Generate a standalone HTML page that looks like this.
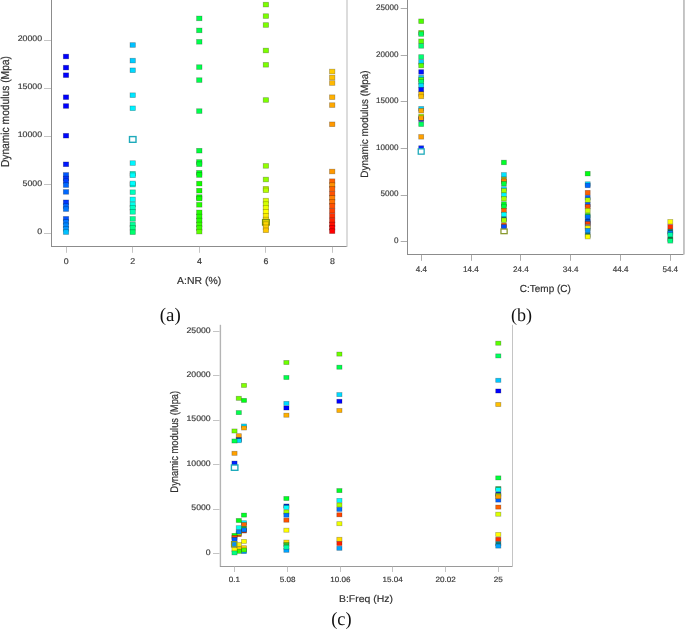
<!DOCTYPE html>
<html><head><meta charset="utf-8"><style>
html,body{margin:0;padding:0;background:#fff;width:685px;height:629px;overflow:hidden}
svg{position:absolute;left:0;top:0;will-change:transform}
text{text-rendering:geometricPrecision}

</style></head><body>
<svg width="685" height="629" viewBox="0 0 685 629" shape-rendering="auto">
<line x1="51.5" y1="0" x2="51.5" y2="246.9" stroke="#8c8c8c" stroke-width="1.0"/>
<line x1="51.0" y1="246.5" x2="347.2" y2="246.5" stroke="#8c8c8c" stroke-width="1.0"/>
<line x1="347.0" y1="0" x2="347.0" y2="246.4" stroke="#d4d4d4" stroke-width="1.6"/>
<line x1="44.0" y1="40.5" x2="51.0" y2="40.5" stroke="#c4c4c4" stroke-width="1.0"/>
<line x1="44.0" y1="88.5" x2="51.0" y2="88.5" stroke="#c4c4c4" stroke-width="1.0"/>
<line x1="44.0" y1="136.5" x2="51.0" y2="136.5" stroke="#c4c4c4" stroke-width="1.0"/>
<line x1="44.0" y1="184.5" x2="51.0" y2="184.5" stroke="#c4c4c4" stroke-width="1.0"/>
<line x1="44.0" y1="233.5" x2="51.0" y2="233.5" stroke="#c4c4c4" stroke-width="1.0"/>
<line x1="66.5" y1="246.9" x2="66.5" y2="252.8" stroke="#c4c4c4" stroke-width="1.0"/>
<line x1="132.5" y1="246.9" x2="132.5" y2="252.8" stroke="#c4c4c4" stroke-width="1.0"/>
<line x1="199.5" y1="246.9" x2="199.5" y2="252.8" stroke="#c4c4c4" stroke-width="1.0"/>
<line x1="265.5" y1="246.9" x2="265.5" y2="252.8" stroke="#c4c4c4" stroke-width="1.0"/>
<line x1="332.5" y1="246.9" x2="332.5" y2="252.8" stroke="#c4c4c4" stroke-width="1.0"/>
<line x1="407.5" y1="0" x2="407.5" y2="254.9" stroke="#8c8c8c" stroke-width="1.0"/>
<line x1="407.0" y1="254.5" x2="683.6" y2="254.5" stroke="#8c8c8c" stroke-width="1.0"/>
<line x1="683.95" y1="0" x2="683.95" y2="254.4" stroke="#bcbcbc" stroke-width="1.7"/>
<line x1="400.7" y1="8.5" x2="407.1" y2="8.5" stroke="#acacac" stroke-width="1.0"/>
<line x1="400.7" y1="55.5" x2="407.1" y2="55.5" stroke="#acacac" stroke-width="1.0"/>
<line x1="400.7" y1="101.5" x2="407.1" y2="101.5" stroke="#acacac" stroke-width="1.0"/>
<line x1="400.7" y1="148.5" x2="407.1" y2="148.5" stroke="#acacac" stroke-width="1.0"/>
<line x1="400.7" y1="195.5" x2="407.1" y2="195.5" stroke="#acacac" stroke-width="1.0"/>
<line x1="400.7" y1="241.5" x2="407.1" y2="241.5" stroke="#acacac" stroke-width="1.0"/>
<line x1="421.5" y1="254.9" x2="421.5" y2="260.8" stroke="#acacac" stroke-width="1.0"/>
<line x1="471.5" y1="254.9" x2="471.5" y2="260.8" stroke="#acacac" stroke-width="1.0"/>
<line x1="520.5" y1="254.9" x2="520.5" y2="260.8" stroke="#acacac" stroke-width="1.0"/>
<line x1="570.5" y1="254.9" x2="570.5" y2="260.8" stroke="#acacac" stroke-width="1.0"/>
<line x1="620.5" y1="254.9" x2="620.5" y2="260.8" stroke="#acacac" stroke-width="1.0"/>
<line x1="670.5" y1="254.9" x2="670.5" y2="260.8" stroke="#acacac" stroke-width="1.0"/>
<line x1="220.4" y1="324.8" x2="220.4" y2="567.0" stroke="#b4b4b4" stroke-width="1.4"/>
<line x1="220.0" y1="566.5" x2="513.0" y2="566.5" stroke="#9a9a9a" stroke-width="1.0"/>
<line x1="512.5" y1="324.8" x2="512.5" y2="567.0" stroke="#c4c4c4" stroke-width="1.0"/>
<line x1="213.0" y1="331.5" x2="219.6" y2="331.5" stroke="#c4c4c4" stroke-width="1.0"/>
<line x1="213.0" y1="375.5" x2="219.6" y2="375.5" stroke="#c4c4c4" stroke-width="1.0"/>
<line x1="213.0" y1="420.5" x2="219.6" y2="420.5" stroke="#c4c4c4" stroke-width="1.0"/>
<line x1="213.0" y1="464.5" x2="219.6" y2="464.5" stroke="#c4c4c4" stroke-width="1.0"/>
<line x1="213.0" y1="509.5" x2="219.6" y2="509.5" stroke="#c4c4c4" stroke-width="1.0"/>
<line x1="213.0" y1="553.5" x2="219.6" y2="553.5" stroke="#c4c4c4" stroke-width="1.0"/>
<line x1="234.5" y1="566.7" x2="234.5" y2="572.0" stroke="#c4c4c4" stroke-width="1.0"/>
<line x1="287.5" y1="566.7" x2="287.5" y2="572.0" stroke="#c4c4c4" stroke-width="1.0"/>
<line x1="340.5" y1="566.7" x2="340.5" y2="572.0" stroke="#c4c4c4" stroke-width="1.0"/>
<line x1="392.5" y1="566.7" x2="392.5" y2="572.0" stroke="#c4c4c4" stroke-width="1.0"/>
<line x1="445.5" y1="566.7" x2="445.5" y2="572.0" stroke="#c4c4c4" stroke-width="1.0"/>
<line x1="498.5" y1="566.7" x2="498.5" y2="572.0" stroke="#c4c4c4" stroke-width="1.0"/>
<rect x="63.30" y="54.15" width="5.40" height="4.70" fill="#0000ff" stroke="#000" stroke-opacity="0.3" stroke-width="0.7"/>
<rect x="63.30" y="65.25" width="5.40" height="4.70" fill="#0000ff" stroke="#000" stroke-opacity="0.3" stroke-width="0.7"/>
<rect x="63.30" y="72.85" width="5.40" height="4.70" fill="#0000ff" stroke="#000" stroke-opacity="0.3" stroke-width="0.7"/>
<rect x="63.30" y="94.85" width="5.40" height="4.70" fill="#0000ff" stroke="#000" stroke-opacity="0.3" stroke-width="0.7"/>
<rect x="63.30" y="103.65" width="5.40" height="4.70" fill="#0000ff" stroke="#000" stroke-opacity="0.3" stroke-width="0.7"/>
<rect x="63.30" y="133.35" width="5.40" height="4.70" fill="#0008ff" stroke="#000" stroke-opacity="0.3" stroke-width="0.7"/>
<rect x="63.30" y="161.95" width="5.40" height="4.70" fill="#0018ff" stroke="#000" stroke-opacity="0.3" stroke-width="0.7"/>
<rect x="63.30" y="172.55" width="5.40" height="4.70" fill="#0058ff" stroke="#000" stroke-opacity="0.3" stroke-width="0.7"/>
<rect x="63.30" y="176.15" width="5.40" height="4.70" fill="#0033ff" stroke="#000" stroke-opacity="0.3" stroke-width="0.7"/>
<rect x="63.30" y="178.75" width="5.40" height="4.70" fill="#0040ff" stroke="#000" stroke-opacity="0.3" stroke-width="0.7"/>
<rect x="63.30" y="182.75" width="5.40" height="4.70" fill="#0068ff" stroke="#000" stroke-opacity="0.3" stroke-width="0.7"/>
<rect x="63.30" y="189.55" width="5.40" height="4.70" fill="#0068ff" stroke="#000" stroke-opacity="0.3" stroke-width="0.7"/>
<rect x="63.30" y="199.95" width="5.40" height="4.70" fill="#0038ff" stroke="#000" stroke-opacity="0.3" stroke-width="0.7"/>
<rect x="63.30" y="203.75" width="5.40" height="4.70" fill="#0068ff" stroke="#000" stroke-opacity="0.3" stroke-width="0.7"/>
<rect x="63.30" y="206.75" width="5.40" height="4.70" fill="#0077ff" stroke="#000" stroke-opacity="0.3" stroke-width="0.7"/>
<rect x="63.30" y="216.45" width="5.40" height="4.70" fill="#0050ff" stroke="#000" stroke-opacity="0.3" stroke-width="0.7"/>
<rect x="63.30" y="219.65" width="5.40" height="4.70" fill="#0078ff" stroke="#000" stroke-opacity="0.3" stroke-width="0.7"/>
<rect x="63.30" y="222.95" width="5.40" height="4.70" fill="#0088ff" stroke="#000" stroke-opacity="0.3" stroke-width="0.7"/>
<rect x="63.30" y="226.55" width="5.40" height="4.70" fill="#0094ff" stroke="#000" stroke-opacity="0.3" stroke-width="0.7"/>
<rect x="63.30" y="229.75" width="5.40" height="4.70" fill="#00c0ff" stroke="#000" stroke-opacity="0.3" stroke-width="0.7"/>
<rect x="130.00" y="42.65" width="5.40" height="4.70" fill="#00c0ff" stroke="#000" stroke-opacity="0.3" stroke-width="0.7"/>
<rect x="130.00" y="58.25" width="5.40" height="4.70" fill="#00cdff" stroke="#000" stroke-opacity="0.3" stroke-width="0.7"/>
<rect x="130.00" y="67.95" width="5.40" height="4.70" fill="#00d9ff" stroke="#000" stroke-opacity="0.3" stroke-width="0.7"/>
<rect x="130.00" y="92.85" width="5.40" height="4.70" fill="#00e6ff" stroke="#000" stroke-opacity="0.3" stroke-width="0.7"/>
<rect x="130.00" y="105.95" width="5.40" height="4.70" fill="#00f1ff" stroke="#000" stroke-opacity="0.3" stroke-width="0.7"/>
<rect x="129.50" y="136.60" width="6.50" height="5.70" fill="#fff" stroke="#1eaabb" stroke-width="1.4"/>
<rect x="130.00" y="160.75" width="5.40" height="4.70" fill="#00f6ff" stroke="#000" stroke-opacity="0.3" stroke-width="0.7"/>
<rect x="130.00" y="171.35" width="5.40" height="4.70" fill="#00ffd6" stroke="#000" stroke-opacity="0.3" stroke-width="0.7"/>
<rect x="130.00" y="172.95" width="5.40" height="4.70" fill="#00ffff" stroke="#000" stroke-opacity="0.3" stroke-width="0.7"/>
<rect x="130.00" y="182.25" width="5.40" height="4.70" fill="#00ffe0" stroke="#000" stroke-opacity="0.3" stroke-width="0.7"/>
<rect x="130.00" y="181.05" width="5.40" height="4.70" fill="#00ffff" stroke="#000" stroke-opacity="0.3" stroke-width="0.7"/>
<rect x="130.00" y="189.85" width="5.40" height="4.70" fill="#00ffbd" stroke="#000" stroke-opacity="0.3" stroke-width="0.7"/>
<rect x="130.00" y="197.05" width="5.40" height="4.70" fill="#00fff6" stroke="#000" stroke-opacity="0.3" stroke-width="0.7"/>
<rect x="130.00" y="202.15" width="5.40" height="4.70" fill="#00ffec" stroke="#000" stroke-opacity="0.3" stroke-width="0.7"/>
<rect x="130.00" y="205.35" width="5.40" height="4.70" fill="#00ffc4" stroke="#000" stroke-opacity="0.3" stroke-width="0.7"/>
<rect x="130.00" y="209.55" width="5.40" height="4.70" fill="#00ffb3" stroke="#000" stroke-opacity="0.3" stroke-width="0.7"/>
<rect x="130.00" y="216.55" width="5.40" height="4.70" fill="#00ff93" stroke="#000" stroke-opacity="0.3" stroke-width="0.7"/>
<rect x="130.00" y="222.15" width="5.40" height="4.70" fill="#00ff97" stroke="#000" stroke-opacity="0.3" stroke-width="0.7"/>
<rect x="130.00" y="225.35" width="5.40" height="4.70" fill="#00ff84" stroke="#000" stroke-opacity="0.3" stroke-width="0.7"/>
<rect x="130.00" y="229.85" width="5.40" height="4.70" fill="#00ff6d" stroke="#000" stroke-opacity="0.3" stroke-width="0.7"/>
<rect x="196.60" y="16.05" width="5.40" height="4.70" fill="#00ff4c" stroke="#000" stroke-opacity="0.3" stroke-width="0.7"/>
<rect x="196.60" y="28.05" width="5.40" height="4.70" fill="#00ff4c" stroke="#000" stroke-opacity="0.3" stroke-width="0.7"/>
<rect x="196.60" y="39.45" width="5.40" height="4.70" fill="#00ff4c" stroke="#000" stroke-opacity="0.3" stroke-width="0.7"/>
<rect x="196.60" y="64.75" width="5.40" height="4.70" fill="#00ff4c" stroke="#000" stroke-opacity="0.3" stroke-width="0.7"/>
<rect x="196.60" y="77.75" width="5.40" height="4.70" fill="#00ff4c" stroke="#000" stroke-opacity="0.3" stroke-width="0.7"/>
<rect x="196.60" y="108.75" width="5.40" height="4.70" fill="#00ff4c" stroke="#000" stroke-opacity="0.3" stroke-width="0.7"/>
<rect x="196.60" y="148.35" width="5.40" height="4.70" fill="#00ff3b" stroke="#000" stroke-opacity="0.3" stroke-width="0.7"/>
<rect x="196.60" y="159.65" width="5.40" height="4.70" fill="#00ff29" stroke="#000" stroke-opacity="0.3" stroke-width="0.7"/>
<rect x="196.60" y="161.85" width="5.40" height="4.70" fill="#00ff2f" stroke="#000" stroke-opacity="0.3" stroke-width="0.7"/>
<rect x="196.60" y="170.45" width="5.40" height="4.70" fill="#00ff1f" stroke="#000" stroke-opacity="0.3" stroke-width="0.7"/>
<rect x="196.60" y="172.65" width="5.40" height="4.70" fill="#00ff14" stroke="#000" stroke-opacity="0.3" stroke-width="0.7"/>
<rect x="196.60" y="181.25" width="5.40" height="4.70" fill="#12ff00" stroke="#000" stroke-opacity="0.3" stroke-width="0.7"/>
<rect x="196.60" y="188.35" width="5.40" height="4.70" fill="#12ff00" stroke="#000" stroke-opacity="0.3" stroke-width="0.7"/>
<rect x="196.60" y="194.75" width="5.40" height="4.70" fill="#0aff00" stroke="#000" stroke-opacity="0.3" stroke-width="0.7"/>
<rect x="196.60" y="196.15" width="5.40" height="4.70" fill="#12ff00" stroke="#000" stroke-opacity="0.3" stroke-width="0.7"/>
<rect x="196.60" y="202.45" width="5.40" height="4.70" fill="#24ff00" stroke="#000" stroke-opacity="0.3" stroke-width="0.7"/>
<rect x="196.60" y="210.05" width="5.40" height="4.70" fill="#26ff00" stroke="#000" stroke-opacity="0.3" stroke-width="0.7"/>
<rect x="196.60" y="214.15" width="5.40" height="4.70" fill="#24ff00" stroke="#000" stroke-opacity="0.3" stroke-width="0.7"/>
<rect x="196.60" y="218.15" width="5.40" height="4.70" fill="#26ff00" stroke="#000" stroke-opacity="0.3" stroke-width="0.7"/>
<rect x="196.60" y="222.15" width="5.40" height="4.70" fill="#37ff00" stroke="#000" stroke-opacity="0.3" stroke-width="0.7"/>
<rect x="196.60" y="225.75" width="5.40" height="4.70" fill="#3bff00" stroke="#000" stroke-opacity="0.3" stroke-width="0.7"/>
<rect x="196.60" y="229.25" width="5.40" height="4.70" fill="#5eff00" stroke="#000" stroke-opacity="0.3" stroke-width="0.7"/>
<rect x="263.20" y="2.25" width="5.40" height="4.70" fill="#7cff00" stroke="#000" stroke-opacity="0.3" stroke-width="0.7"/>
<rect x="263.20" y="13.75" width="5.40" height="4.70" fill="#7cff00" stroke="#000" stroke-opacity="0.3" stroke-width="0.7"/>
<rect x="263.20" y="22.65" width="5.40" height="4.70" fill="#7cff00" stroke="#000" stroke-opacity="0.3" stroke-width="0.7"/>
<rect x="263.20" y="48.15" width="5.40" height="4.70" fill="#7cff00" stroke="#000" stroke-opacity="0.3" stroke-width="0.7"/>
<rect x="263.20" y="62.45" width="5.40" height="4.70" fill="#7cff00" stroke="#000" stroke-opacity="0.3" stroke-width="0.7"/>
<rect x="263.20" y="97.65" width="5.40" height="4.70" fill="#7cff00" stroke="#000" stroke-opacity="0.3" stroke-width="0.7"/>
<rect x="263.20" y="163.55" width="5.40" height="4.70" fill="#92ff00" stroke="#000" stroke-opacity="0.3" stroke-width="0.7"/>
<rect x="263.20" y="177.15" width="5.40" height="4.70" fill="#92ff00" stroke="#000" stroke-opacity="0.3" stroke-width="0.7"/>
<rect x="263.20" y="186.35" width="5.40" height="4.70" fill="#c8ff00" stroke="#000" stroke-opacity="0.3" stroke-width="0.7"/>
<rect x="263.20" y="187.95" width="5.40" height="4.70" fill="#b6ff00" stroke="#000" stroke-opacity="0.3" stroke-width="0.7"/>
<rect x="263.20" y="198.25" width="5.40" height="4.70" fill="#ddff00" stroke="#000" stroke-opacity="0.3" stroke-width="0.7"/>
<rect x="263.20" y="201.75" width="5.40" height="4.70" fill="#d4ff00" stroke="#000" stroke-opacity="0.3" stroke-width="0.7"/>
<rect x="263.20" y="205.35" width="5.40" height="4.70" fill="#eeff00" stroke="#000" stroke-opacity="0.3" stroke-width="0.7"/>
<rect x="263.20" y="209.35" width="5.40" height="4.70" fill="#ffff00" stroke="#000" stroke-opacity="0.3" stroke-width="0.7"/>
<rect x="263.20" y="213.35" width="5.40" height="4.70" fill="#ffee00" stroke="#000" stroke-opacity="0.3" stroke-width="0.7"/>
<rect x="263.20" y="217.15" width="5.40" height="4.70" fill="#ffe000" stroke="#000" stroke-opacity="0.3" stroke-width="0.7"/>
<rect x="262.50" y="219.50" width="6.80" height="5.60" fill="#e8d800" stroke="#7a9010" stroke-width="1.2"/>
<rect x="263.20" y="221.85" width="5.40" height="4.70" fill="#ffd800" stroke="#000" stroke-opacity="0.3" stroke-width="0.7"/>
<rect x="263.20" y="224.95" width="5.40" height="4.70" fill="#ffd000" stroke="#000" stroke-opacity="0.3" stroke-width="0.7"/>
<rect x="263.20" y="227.95" width="5.40" height="4.70" fill="#ffc800" stroke="#000" stroke-opacity="0.3" stroke-width="0.7"/>
<rect x="329.50" y="69.15" width="5.40" height="4.70" fill="#ffcc00" stroke="#000" stroke-opacity="0.3" stroke-width="0.7"/>
<rect x="329.50" y="75.15" width="5.40" height="4.70" fill="#ffc000" stroke="#000" stroke-opacity="0.3" stroke-width="0.7"/>
<rect x="329.50" y="80.65" width="5.40" height="4.70" fill="#ffb800" stroke="#000" stroke-opacity="0.3" stroke-width="0.7"/>
<rect x="329.50" y="94.85" width="5.40" height="4.70" fill="#ffb000" stroke="#000" stroke-opacity="0.3" stroke-width="0.7"/>
<rect x="329.50" y="102.75" width="5.40" height="4.70" fill="#ffa800" stroke="#000" stroke-opacity="0.3" stroke-width="0.7"/>
<rect x="329.50" y="121.95" width="5.40" height="4.70" fill="#ff9800" stroke="#000" stroke-opacity="0.3" stroke-width="0.7"/>
<rect x="329.50" y="169.15" width="5.40" height="4.70" fill="#ff9800" stroke="#000" stroke-opacity="0.3" stroke-width="0.7"/>
<rect x="329.50" y="178.85" width="5.40" height="4.70" fill="#ff6000" stroke="#000" stroke-opacity="0.3" stroke-width="0.7"/>
<rect x="329.50" y="182.75" width="5.40" height="4.70" fill="#ff9000" stroke="#000" stroke-opacity="0.3" stroke-width="0.7"/>
<rect x="329.50" y="186.55" width="5.40" height="4.70" fill="#ff6000" stroke="#000" stroke-opacity="0.3" stroke-width="0.7"/>
<rect x="329.50" y="191.35" width="5.40" height="4.70" fill="#ff5000" stroke="#000" stroke-opacity="0.3" stroke-width="0.7"/>
<rect x="329.50" y="195.55" width="5.40" height="4.70" fill="#ff8000" stroke="#000" stroke-opacity="0.3" stroke-width="0.7"/>
<rect x="329.50" y="199.55" width="5.40" height="4.70" fill="#ff7000" stroke="#000" stroke-opacity="0.3" stroke-width="0.7"/>
<rect x="329.50" y="203.55" width="5.40" height="4.70" fill="#ff5000" stroke="#000" stroke-opacity="0.3" stroke-width="0.7"/>
<rect x="329.50" y="208.35" width="5.40" height="4.70" fill="#ff4000" stroke="#000" stroke-opacity="0.3" stroke-width="0.7"/>
<rect x="329.50" y="213.35" width="5.40" height="4.70" fill="#ff3000" stroke="#000" stroke-opacity="0.3" stroke-width="0.7"/>
<rect x="329.50" y="218.15" width="5.40" height="4.70" fill="#ff2000" stroke="#000" stroke-opacity="0.3" stroke-width="0.7"/>
<rect x="329.50" y="222.15" width="5.40" height="4.70" fill="#ff1000" stroke="#000" stroke-opacity="0.3" stroke-width="0.7"/>
<rect x="329.50" y="225.35" width="5.40" height="4.70" fill="#ff0000" stroke="#000" stroke-opacity="0.3" stroke-width="0.7"/>
<rect x="329.50" y="228.85" width="5.40" height="4.70" fill="#ff0000" stroke="#000" stroke-opacity="0.3" stroke-width="0.7"/>
<rect x="418.70" y="18.95" width="5.00" height="4.60" fill="#4eff00" stroke="#000" stroke-opacity="0.3" stroke-width="0.7"/>
<rect x="418.70" y="30.35" width="5.00" height="4.60" fill="#6dff00" stroke="#000" stroke-opacity="0.3" stroke-width="0.7"/>
<rect x="418.70" y="31.75" width="5.00" height="4.60" fill="#00ff5e" stroke="#000" stroke-opacity="0.3" stroke-width="0.7"/>
<rect x="418.70" y="38.95" width="5.00" height="4.60" fill="#5bff00" stroke="#000" stroke-opacity="0.3" stroke-width="0.7"/>
<rect x="418.70" y="43.65" width="5.00" height="4.60" fill="#00ff71" stroke="#000" stroke-opacity="0.3" stroke-width="0.7"/>
<rect x="418.70" y="54.65" width="5.00" height="4.60" fill="#00ff71" stroke="#000" stroke-opacity="0.3" stroke-width="0.7"/>
<rect x="418.70" y="59.65" width="5.00" height="4.60" fill="#00d1ff" stroke="#000" stroke-opacity="0.3" stroke-width="0.7"/>
<rect x="418.70" y="63.25" width="5.00" height="4.60" fill="#5bff00" stroke="#000" stroke-opacity="0.3" stroke-width="0.7"/>
<rect x="418.70" y="69.65" width="5.00" height="4.60" fill="#0011ff" stroke="#000" stroke-opacity="0.3" stroke-width="0.7"/>
<rect x="418.70" y="75.35" width="5.00" height="4.60" fill="#00c8ff" stroke="#000" stroke-opacity="0.3" stroke-width="0.7"/>
<rect x="418.70" y="77.45" width="5.00" height="4.60" fill="#55ff00" stroke="#000" stroke-opacity="0.3" stroke-width="0.7"/>
<rect x="418.70" y="79.65" width="5.00" height="4.60" fill="#00ff71" stroke="#000" stroke-opacity="0.3" stroke-width="0.7"/>
<rect x="418.70" y="83.25" width="5.00" height="4.60" fill="#00dbff" stroke="#000" stroke-opacity="0.3" stroke-width="0.7"/>
<rect x="418.70" y="87.45" width="5.00" height="4.60" fill="#0012ff" stroke="#000" stroke-opacity="0.3" stroke-width="0.7"/>
<rect x="418.70" y="91.75" width="5.00" height="4.60" fill="#ffc400" stroke="#000" stroke-opacity="0.3" stroke-width="0.7"/>
<rect x="418.70" y="94.15" width="5.00" height="4.60" fill="#ffc000" stroke="#000" stroke-opacity="0.3" stroke-width="0.7"/>
<rect x="418.70" y="106.45" width="5.00" height="4.60" fill="#00d1ff" stroke="#000" stroke-opacity="0.3" stroke-width="0.7"/>
<rect x="418.70" y="108.35" width="5.00" height="4.60" fill="#ffa800" stroke="#000" stroke-opacity="0.3" stroke-width="0.7"/>
<rect x="418.70" y="114.15" width="5.00" height="4.60" fill="#a4ff00" stroke="#000" stroke-opacity="0.3" stroke-width="0.7"/>
<rect x="418.70" y="116.95" width="5.00" height="4.60" fill="#0024ff" stroke="#000" stroke-opacity="0.3" stroke-width="0.7"/>
<rect x="418.70" y="115.75" width="5.00" height="4.60" fill="#ffa000" stroke="#000" stroke-opacity="0.3" stroke-width="0.7"/>
<rect x="418.70" y="121.95" width="5.00" height="4.60" fill="#00ff5e" stroke="#000" stroke-opacity="0.3" stroke-width="0.7"/>
<rect x="418.70" y="134.55" width="5.00" height="4.60" fill="#ffa000" stroke="#000" stroke-opacity="0.3" stroke-width="0.7"/>
<rect x="418.70" y="145.75" width="5.00" height="4.60" fill="#0022ff" stroke="#000" stroke-opacity="0.3" stroke-width="0.7"/>
<rect x="418.25" y="148.85" width="5.90" height="5.30" fill="#fff" stroke="#1eaabb" stroke-width="1.3"/>
<rect x="501.40" y="160.15" width="5.00" height="4.60" fill="#00ff29" stroke="#000" stroke-opacity="0.3" stroke-width="0.7"/>
<rect x="501.40" y="172.55" width="5.00" height="4.60" fill="#00e4ff" stroke="#000" stroke-opacity="0.3" stroke-width="0.7"/>
<rect x="501.40" y="176.95" width="5.00" height="4.60" fill="#a0b020" stroke="#000" stroke-opacity="0.3" stroke-width="0.7"/>
<rect x="501.40" y="178.95" width="5.00" height="4.60" fill="#ff8000" stroke="#000" stroke-opacity="0.3" stroke-width="0.7"/>
<rect x="501.40" y="181.35" width="5.00" height="4.60" fill="#00ff39" stroke="#000" stroke-opacity="0.3" stroke-width="0.7"/>
<rect x="501.40" y="186.65" width="5.00" height="4.60" fill="#00dbff" stroke="#000" stroke-opacity="0.3" stroke-width="0.7"/>
<rect x="501.40" y="188.45" width="5.00" height="4.60" fill="#a4ff00" stroke="#000" stroke-opacity="0.3" stroke-width="0.7"/>
<rect x="501.40" y="192.85" width="5.00" height="4.60" fill="#00f5ff" stroke="#000" stroke-opacity="0.3" stroke-width="0.7"/>
<rect x="501.40" y="196.35" width="5.00" height="4.60" fill="#a4ff00" stroke="#000" stroke-opacity="0.3" stroke-width="0.7"/>
<rect x="501.40" y="201.75" width="5.00" height="4.60" fill="#00ff2a" stroke="#000" stroke-opacity="0.3" stroke-width="0.7"/>
<rect x="501.40" y="204.15" width="5.00" height="4.60" fill="#00ff39" stroke="#000" stroke-opacity="0.3" stroke-width="0.7"/>
<rect x="501.40" y="208.25" width="5.00" height="4.60" fill="#ff6000" stroke="#000" stroke-opacity="0.3" stroke-width="0.7"/>
<rect x="501.40" y="212.25" width="5.00" height="4.60" fill="#00ffff" stroke="#000" stroke-opacity="0.3" stroke-width="0.7"/>
<rect x="501.40" y="216.85" width="5.00" height="4.60" fill="#108080" stroke="#000" stroke-opacity="0.3" stroke-width="0.7"/>
<rect x="501.40" y="217.95" width="5.00" height="4.60" fill="#a4ff00" stroke="#000" stroke-opacity="0.3" stroke-width="0.7"/>
<rect x="501.40" y="223.05" width="5.00" height="4.60" fill="#ff6000" stroke="#000" stroke-opacity="0.3" stroke-width="0.7"/>
<rect x="501.40" y="224.55" width="5.00" height="4.60" fill="#004eff" stroke="#000" stroke-opacity="0.3" stroke-width="0.7"/>
<rect x="500.95" y="229.05" width="6.20" height="4.60" fill="#fff" stroke="#8a9a30" stroke-width="1.3"/>
<rect x="585.20" y="171.35" width="5.00" height="4.60" fill="#00ff13" stroke="#000" stroke-opacity="0.3" stroke-width="0.7"/>
<rect x="585.20" y="181.75" width="5.00" height="4.60" fill="#00e2ff" stroke="#000" stroke-opacity="0.3" stroke-width="0.7"/>
<rect x="585.20" y="183.15" width="5.00" height="4.60" fill="#0066ff" stroke="#000" stroke-opacity="0.3" stroke-width="0.7"/>
<rect x="585.20" y="190.35" width="5.00" height="4.60" fill="#ff6000" stroke="#000" stroke-opacity="0.3" stroke-width="0.7"/>
<rect x="585.20" y="195.35" width="5.00" height="4.60" fill="#005fff" stroke="#000" stroke-opacity="0.3" stroke-width="0.7"/>
<rect x="585.20" y="197.75" width="5.00" height="4.60" fill="#b6ff00" stroke="#000" stroke-opacity="0.3" stroke-width="0.7"/>
<rect x="585.20" y="202.45" width="5.00" height="4.60" fill="#005fff" stroke="#000" stroke-opacity="0.3" stroke-width="0.7"/>
<rect x="585.20" y="204.35" width="5.00" height="4.60" fill="#ff5000" stroke="#000" stroke-opacity="0.3" stroke-width="0.7"/>
<rect x="585.20" y="208.25" width="5.00" height="4.60" fill="#c8ff00" stroke="#000" stroke-opacity="0.3" stroke-width="0.7"/>
<rect x="585.20" y="213.25" width="5.00" height="4.60" fill="#2aff00" stroke="#000" stroke-opacity="0.3" stroke-width="0.7"/>
<rect x="585.20" y="214.65" width="5.00" height="4.60" fill="#0071ff" stroke="#000" stroke-opacity="0.3" stroke-width="0.7"/>
<rect x="585.20" y="218.95" width="5.00" height="4.60" fill="#0040c0" stroke="#000" stroke-opacity="0.3" stroke-width="0.7"/>
<rect x="585.20" y="220.15" width="5.00" height="4.60" fill="#0071ff" stroke="#000" stroke-opacity="0.3" stroke-width="0.7"/>
<rect x="585.20" y="221.45" width="5.00" height="4.60" fill="#ff4000" stroke="#000" stroke-opacity="0.3" stroke-width="0.7"/>
<rect x="585.20" y="224.15" width="5.00" height="4.60" fill="#909090" stroke="#000" stroke-opacity="0.3" stroke-width="0.7"/>
<rect x="585.20" y="225.85" width="5.00" height="4.60" fill="#ffff00" stroke="#000" stroke-opacity="0.3" stroke-width="0.7"/>
<rect x="585.20" y="228.25" width="5.00" height="4.60" fill="#0095ff" stroke="#000" stroke-opacity="0.3" stroke-width="0.7"/>
<rect x="585.20" y="232.95" width="5.00" height="4.60" fill="#108080" stroke="#000" stroke-opacity="0.3" stroke-width="0.7"/>
<rect x="585.20" y="234.35" width="5.00" height="4.60" fill="#ffff00" stroke="#000" stroke-opacity="0.3" stroke-width="0.7"/>
<rect x="667.80" y="219.45" width="5.00" height="4.60" fill="#ffff00" stroke="#000" stroke-opacity="0.3" stroke-width="0.7"/>
<rect x="667.80" y="224.55" width="5.00" height="4.60" fill="#ff3000" stroke="#000" stroke-opacity="0.3" stroke-width="0.7"/>
<rect x="667.80" y="229.25" width="5.00" height="4.60" fill="#107060" stroke="#000" stroke-opacity="0.3" stroke-width="0.7"/>
<rect x="667.80" y="230.85" width="5.00" height="4.60" fill="#0083ff" stroke="#000" stroke-opacity="0.3" stroke-width="0.7"/>
<rect x="667.80" y="232.65" width="5.00" height="4.60" fill="#00ffa4" stroke="#000" stroke-opacity="0.3" stroke-width="0.7"/>
<rect x="667.80" y="236.95" width="5.00" height="4.60" fill="#108040" stroke="#000" stroke-opacity="0.3" stroke-width="0.7"/>
<rect x="667.80" y="238.55" width="5.00" height="4.60" fill="#00ff80" stroke="#000" stroke-opacity="0.3" stroke-width="0.7"/>
<rect x="241.40" y="383.35" width="5.20" height="4.10" fill="#80ff00" stroke="#000" stroke-opacity="0.3" stroke-width="0.7"/>
<rect x="241.40" y="398.35" width="5.20" height="4.10" fill="#00ff16" stroke="#000" stroke-opacity="0.3" stroke-width="0.7"/>
<rect x="236.20" y="396.25" width="5.20" height="4.10" fill="#6dff00" stroke="#000" stroke-opacity="0.3" stroke-width="0.7"/>
<rect x="236.20" y="410.55" width="5.20" height="4.10" fill="#00ff4c" stroke="#000" stroke-opacity="0.3" stroke-width="0.7"/>
<rect x="241.40" y="423.95" width="5.20" height="4.10" fill="#00dbff" stroke="#000" stroke-opacity="0.3" stroke-width="0.7"/>
<rect x="241.40" y="425.95" width="5.20" height="4.10" fill="#ffa800" stroke="#000" stroke-opacity="0.3" stroke-width="0.7"/>
<rect x="231.90" y="428.95" width="5.20" height="4.10" fill="#76ff00" stroke="#000" stroke-opacity="0.3" stroke-width="0.7"/>
<rect x="236.20" y="433.65" width="5.20" height="4.10" fill="#ffa000" stroke="#000" stroke-opacity="0.3" stroke-width="0.7"/>
<rect x="236.20" y="437.55" width="5.20" height="4.10" fill="#0030c0" stroke="#000" stroke-opacity="0.3" stroke-width="0.7"/>
<rect x="236.20" y="438.65" width="5.20" height="4.10" fill="#00dbff" stroke="#000" stroke-opacity="0.3" stroke-width="0.7"/>
<rect x="231.90" y="438.95" width="5.20" height="4.10" fill="#00ff4c" stroke="#000" stroke-opacity="0.3" stroke-width="0.7"/>
<rect x="231.90" y="451.25" width="5.20" height="4.10" fill="#ffa000" stroke="#000" stroke-opacity="0.3" stroke-width="0.7"/>
<rect x="231.90" y="461.05" width="5.20" height="4.10" fill="#0022ff" stroke="#000" stroke-opacity="0.3" stroke-width="0.7"/>
<rect x="231.40" y="465.00" width="6.50" height="5.30" fill="#fff" stroke="#1eaabb" stroke-width="1.4"/>
<rect x="241.40" y="549.55" width="5.20" height="4.10" fill="#00a4ff" stroke="#000" stroke-opacity="0.3" stroke-width="0.7"/>
<rect x="241.40" y="513.05" width="5.20" height="4.10" fill="#00ff26" stroke="#000" stroke-opacity="0.3" stroke-width="0.7"/>
<rect x="241.40" y="520.65" width="5.20" height="4.10" fill="#00f3ff" stroke="#000" stroke-opacity="0.3" stroke-width="0.7"/>
<rect x="241.40" y="522.45" width="5.20" height="4.10" fill="#ff6600" stroke="#000" stroke-opacity="0.3" stroke-width="0.7"/>
<rect x="241.40" y="526.35" width="5.20" height="4.10" fill="#30c030" stroke="#000" stroke-opacity="0.3" stroke-width="0.7"/>
<rect x="241.40" y="528.95" width="5.20" height="4.10" fill="#c04020" stroke="#000" stroke-opacity="0.3" stroke-width="0.7"/>
<rect x="241.40" y="527.85" width="5.20" height="4.10" fill="#007cff" stroke="#000" stroke-opacity="0.3" stroke-width="0.7"/>
<rect x="241.40" y="539.35" width="5.20" height="4.10" fill="#ffff00" stroke="#000" stroke-opacity="0.3" stroke-width="0.7"/>
<rect x="241.40" y="545.65" width="5.20" height="4.10" fill="#ffd000" stroke="#000" stroke-opacity="0.3" stroke-width="0.7"/>
<rect x="241.40" y="547.95" width="5.20" height="4.10" fill="#49ff00" stroke="#000" stroke-opacity="0.3" stroke-width="0.7"/>
<rect x="236.20" y="518.45" width="5.20" height="4.10" fill="#00ff13" stroke="#000" stroke-opacity="0.3" stroke-width="0.7"/>
<rect x="236.20" y="525.65" width="5.20" height="4.10" fill="#00ffed" stroke="#000" stroke-opacity="0.3" stroke-width="0.7"/>
<rect x="236.20" y="532.55" width="5.20" height="4.10" fill="#ff3000" stroke="#000" stroke-opacity="0.3" stroke-width="0.7"/>
<rect x="236.20" y="531.15" width="5.20" height="4.10" fill="#b1ff00" stroke="#000" stroke-opacity="0.3" stroke-width="0.7"/>
<rect x="236.20" y="529.85" width="5.20" height="4.10" fill="#0083ff" stroke="#000" stroke-opacity="0.3" stroke-width="0.7"/>
<rect x="236.20" y="542.55" width="5.20" height="4.10" fill="#fff600" stroke="#000" stroke-opacity="0.3" stroke-width="0.7"/>
<rect x="236.20" y="546.75" width="5.20" height="4.10" fill="#ffd000" stroke="#000" stroke-opacity="0.3" stroke-width="0.7"/>
<rect x="236.20" y="549.25" width="5.20" height="4.10" fill="#37ff00" stroke="#000" stroke-opacity="0.3" stroke-width="0.7"/>
<rect x="231.90" y="533.35" width="5.20" height="4.10" fill="#00ff13" stroke="#000" stroke-opacity="0.3" stroke-width="0.7"/>
<rect x="231.90" y="535.35" width="5.20" height="4.10" fill="#ff4400" stroke="#000" stroke-opacity="0.3" stroke-width="0.7"/>
<rect x="231.90" y="537.35" width="5.20" height="4.10" fill="#0055ff" stroke="#000" stroke-opacity="0.3" stroke-width="0.7"/>
<rect x="231.55" y="541.65" width="5.30" height="5.30" fill="#0a90f0" stroke="#8a9a20" stroke-width="1.3"/>
<rect x="231.90" y="547.65" width="5.20" height="4.10" fill="#ffff00" stroke="#000" stroke-opacity="0.3" stroke-width="0.7"/>
<rect x="231.90" y="550.85" width="5.20" height="4.10" fill="#00ff80" stroke="#000" stroke-opacity="0.3" stroke-width="0.7"/>
<rect x="283.80" y="360.45" width="5.20" height="4.10" fill="#6dff00" stroke="#000" stroke-opacity="0.3" stroke-width="0.7"/>
<rect x="283.80" y="375.45" width="5.20" height="4.10" fill="#00ff4c" stroke="#000" stroke-opacity="0.3" stroke-width="0.7"/>
<rect x="283.80" y="401.35" width="5.20" height="4.10" fill="#00dbff" stroke="#000" stroke-opacity="0.3" stroke-width="0.7"/>
<rect x="283.80" y="405.95" width="5.20" height="4.10" fill="#0000ff" stroke="#000" stroke-opacity="0.3" stroke-width="0.7"/>
<rect x="283.80" y="413.15" width="5.20" height="4.10" fill="#ffb000" stroke="#000" stroke-opacity="0.3" stroke-width="0.7"/>
<rect x="283.80" y="496.45" width="5.20" height="4.10" fill="#00ff26" stroke="#000" stroke-opacity="0.3" stroke-width="0.7"/>
<rect x="283.80" y="503.95" width="5.20" height="4.10" fill="#0030c0" stroke="#000" stroke-opacity="0.3" stroke-width="0.7"/>
<rect x="283.80" y="505.35" width="5.20" height="4.10" fill="#00ffff" stroke="#000" stroke-opacity="0.3" stroke-width="0.7"/>
<rect x="283.80" y="509.95" width="5.20" height="4.10" fill="#a4ff00" stroke="#000" stroke-opacity="0.3" stroke-width="0.7"/>
<rect x="283.80" y="513.15" width="5.20" height="4.10" fill="#0071ff" stroke="#000" stroke-opacity="0.3" stroke-width="0.7"/>
<rect x="283.80" y="518.15" width="5.20" height="4.10" fill="#ff5000" stroke="#000" stroke-opacity="0.3" stroke-width="0.7"/>
<rect x="283.80" y="528.15" width="5.20" height="4.10" fill="#ffff00" stroke="#000" stroke-opacity="0.3" stroke-width="0.7"/>
<rect x="283.80" y="540.05" width="5.20" height="4.10" fill="#ffe000" stroke="#000" stroke-opacity="0.3" stroke-width="0.7"/>
<rect x="283.80" y="542.55" width="5.20" height="4.10" fill="#30c030" stroke="#000" stroke-opacity="0.3" stroke-width="0.7"/>
<rect x="283.80" y="548.25" width="5.20" height="4.10" fill="#00a4ff" stroke="#000" stroke-opacity="0.3" stroke-width="0.7"/>
<rect x="283.80" y="545.15" width="5.20" height="4.10" fill="#00ffa4" stroke="#000" stroke-opacity="0.3" stroke-width="0.7"/>
<rect x="336.80" y="352.05" width="5.20" height="4.10" fill="#6dff00" stroke="#000" stroke-opacity="0.3" stroke-width="0.7"/>
<rect x="336.80" y="365.15" width="5.20" height="4.10" fill="#00ff4c" stroke="#000" stroke-opacity="0.3" stroke-width="0.7"/>
<rect x="336.80" y="392.55" width="5.20" height="4.10" fill="#00dbff" stroke="#000" stroke-opacity="0.3" stroke-width="0.7"/>
<rect x="336.80" y="399.25" width="5.20" height="4.10" fill="#0000ff" stroke="#000" stroke-opacity="0.3" stroke-width="0.7"/>
<rect x="336.80" y="408.45" width="5.20" height="4.10" fill="#ffb000" stroke="#000" stroke-opacity="0.3" stroke-width="0.7"/>
<rect x="336.80" y="488.55" width="5.20" height="4.10" fill="#00ff26" stroke="#000" stroke-opacity="0.3" stroke-width="0.7"/>
<rect x="336.80" y="498.35" width="5.20" height="4.10" fill="#00ffff" stroke="#000" stroke-opacity="0.3" stroke-width="0.7"/>
<rect x="336.80" y="502.95" width="5.20" height="4.10" fill="#a4ff00" stroke="#000" stroke-opacity="0.3" stroke-width="0.7"/>
<rect x="336.80" y="507.35" width="5.20" height="4.10" fill="#0071ff" stroke="#000" stroke-opacity="0.3" stroke-width="0.7"/>
<rect x="336.80" y="512.75" width="5.20" height="4.10" fill="#ff4400" stroke="#000" stroke-opacity="0.3" stroke-width="0.7"/>
<rect x="336.80" y="521.65" width="5.20" height="4.10" fill="#edff00" stroke="#000" stroke-opacity="0.3" stroke-width="0.7"/>
<rect x="336.80" y="537.25" width="5.20" height="4.10" fill="#ffe000" stroke="#000" stroke-opacity="0.3" stroke-width="0.7"/>
<rect x="336.80" y="541.45" width="5.20" height="4.10" fill="#ff2000" stroke="#000" stroke-opacity="0.3" stroke-width="0.7"/>
<rect x="336.80" y="546.25" width="5.20" height="4.10" fill="#00a4ff" stroke="#000" stroke-opacity="0.3" stroke-width="0.7"/>
<rect x="495.70" y="341.15" width="5.20" height="4.10" fill="#5bff00" stroke="#000" stroke-opacity="0.3" stroke-width="0.7"/>
<rect x="495.70" y="353.85" width="5.20" height="4.10" fill="#00ff5e" stroke="#000" stroke-opacity="0.3" stroke-width="0.7"/>
<rect x="495.70" y="378.25" width="5.20" height="4.10" fill="#00c8ff" stroke="#000" stroke-opacity="0.3" stroke-width="0.7"/>
<rect x="495.70" y="388.95" width="5.20" height="4.10" fill="#0000ff" stroke="#000" stroke-opacity="0.3" stroke-width="0.7"/>
<rect x="495.70" y="402.45" width="5.20" height="4.10" fill="#ffc000" stroke="#000" stroke-opacity="0.3" stroke-width="0.7"/>
<rect x="495.70" y="475.85" width="5.20" height="4.10" fill="#00ff39" stroke="#000" stroke-opacity="0.3" stroke-width="0.7"/>
<rect x="495.70" y="486.45" width="5.20" height="4.10" fill="#30c040" stroke="#000" stroke-opacity="0.3" stroke-width="0.7"/>
<rect x="495.70" y="487.65" width="5.20" height="4.10" fill="#00ffff" stroke="#000" stroke-opacity="0.3" stroke-width="0.7"/>
<rect x="495.70" y="492.05" width="5.20" height="4.10" fill="#0030c0" stroke="#000" stroke-opacity="0.3" stroke-width="0.7"/>
<rect x="495.70" y="493.35" width="5.20" height="4.10" fill="#b6ff00" stroke="#000" stroke-opacity="0.3" stroke-width="0.7"/>
<rect x="495.70" y="498.05" width="5.20" height="4.10" fill="#005fff" stroke="#000" stroke-opacity="0.3" stroke-width="0.7"/>
<rect x="495.70" y="494.75" width="5.20" height="4.10" fill="#ffa000" stroke="#000" stroke-opacity="0.3" stroke-width="0.7"/>
<rect x="495.70" y="505.05" width="5.20" height="4.10" fill="#ff6000" stroke="#000" stroke-opacity="0.3" stroke-width="0.7"/>
<rect x="495.70" y="512.15" width="5.20" height="4.10" fill="#dbff00" stroke="#000" stroke-opacity="0.3" stroke-width="0.7"/>
<rect x="495.70" y="532.45" width="5.20" height="4.10" fill="#ffff00" stroke="#000" stroke-opacity="0.3" stroke-width="0.7"/>
<rect x="495.70" y="537.25" width="5.20" height="4.10" fill="#ff3000" stroke="#000" stroke-opacity="0.3" stroke-width="0.7"/>
<rect x="495.70" y="541.65" width="5.20" height="4.10" fill="#108080" stroke="#000" stroke-opacity="0.3" stroke-width="0.7"/>
<rect x="495.70" y="544.05" width="5.20" height="4.10" fill="#00a4ff" stroke="#000" stroke-opacity="0.3" stroke-width="0.7"/>
<text transform="translate(17.66,40.57) scale(0.0877,0.0803)" font-family="&quot;Liberation Sans&quot;, sans-serif" font-size="100" fill="#383838" stroke="#383838" stroke-width="2.2">20000</text>
<text transform="translate(17.66,89.17) scale(0.0877,0.0803)" font-family="&quot;Liberation Sans&quot;, sans-serif" font-size="100" fill="#383838" stroke="#383838" stroke-width="2.2">15000</text>
<text transform="translate(17.66,137.47) scale(0.0877,0.0803)" font-family="&quot;Liberation Sans&quot;, sans-serif" font-size="100" fill="#383838" stroke="#383838" stroke-width="2.2">10000</text>
<text transform="translate(22.57,185.57) scale(0.0877,0.0803)" font-family="&quot;Liberation Sans&quot;, sans-serif" font-size="100" fill="#383838" stroke="#383838" stroke-width="2.2">5000</text>
<text transform="translate(37.14,233.77) scale(0.0877,0.0803)" font-family="&quot;Liberation Sans&quot;, sans-serif" font-size="100" fill="#383838" stroke="#383838" stroke-width="2.2">0</text>
<text transform="translate(63.74,263.62) scale(0.0877,0.0831)" font-family="&quot;Liberation Sans&quot;, sans-serif" font-size="100" fill="#383838" stroke="#383838" stroke-width="2.2">0</text>
<text transform="translate(130.34,263.70) scale(0.0877,0.0843)" font-family="&quot;Liberation Sans&quot;, sans-serif" font-size="100" fill="#383838" stroke="#383838" stroke-width="2.2">2</text>
<text transform="translate(197.09,263.79) scale(0.0877,0.0868)" font-family="&quot;Liberation Sans&quot;, sans-serif" font-size="100" fill="#383838" stroke="#383838" stroke-width="2.2">4</text>
<text transform="translate(263.44,263.62) scale(0.0877,0.0831)" font-family="&quot;Liberation Sans&quot;, sans-serif" font-size="100" fill="#383838" stroke="#383838" stroke-width="2.2">6</text>
<text transform="translate(330.09,263.62) scale(0.0877,0.0831)" font-family="&quot;Liberation Sans&quot;, sans-serif" font-size="100" fill="#383838" stroke="#383838" stroke-width="2.2">8</text>
<text transform="translate(177.00,284.40) scale(0.1048,0.1017)" font-family="&quot;Liberation Sans&quot;, sans-serif" font-size="100" fill="#303030" stroke="#303030" stroke-width="1.8">A:NR (%)</text>
<text transform="translate(9.10,167.12) rotate(-90) scale(0.1025,0.1148)" font-family="&quot;Liberation Sans&quot;, sans-serif" font-size="100" fill="#303030" stroke="#303030" stroke-width="1.8">Dynamic modulus (Mpa)</text>
<text transform="translate(159.74,321.01) scale(0.1893,0.1900)" font-family="&quot;Liberation Serif&quot;, serif" font-size="100" fill="#111">(a)</text>
<text transform="translate(376.10,10.07) scale(0.0807,0.0803)" font-family="&quot;Liberation Sans&quot;, sans-serif" font-size="100" fill="#383838" stroke="#383838" stroke-width="2.2">25000</text>
<text transform="translate(376.10,56.67) scale(0.0807,0.0803)" font-family="&quot;Liberation Sans&quot;, sans-serif" font-size="100" fill="#383838" stroke="#383838" stroke-width="2.2">20000</text>
<text transform="translate(376.10,103.17) scale(0.0807,0.0803)" font-family="&quot;Liberation Sans&quot;, sans-serif" font-size="100" fill="#383838" stroke="#383838" stroke-width="2.2">15000</text>
<text transform="translate(376.10,149.77) scale(0.0807,0.0803)" font-family="&quot;Liberation Sans&quot;, sans-serif" font-size="100" fill="#383838" stroke="#383838" stroke-width="2.2">10000</text>
<text transform="translate(380.61,196.37) scale(0.0807,0.0803)" font-family="&quot;Liberation Sans&quot;, sans-serif" font-size="100" fill="#383838" stroke="#383838" stroke-width="2.2">5000</text>
<text transform="translate(394.01,242.87) scale(0.0807,0.0803)" font-family="&quot;Liberation Sans&quot;, sans-serif" font-size="100" fill="#383838" stroke="#383838" stroke-width="2.2">0</text>
<text transform="translate(415.73,271.60) scale(0.0807,0.0826)" font-family="&quot;Liberation Sans&quot;, sans-serif" font-size="100" fill="#383838" stroke="#383838" stroke-width="2.2">4.4</text>
<text transform="translate(463.03,271.60) scale(0.0807,0.0826)" font-family="&quot;Liberation Sans&quot;, sans-serif" font-size="100" fill="#383838" stroke="#383838" stroke-width="2.2">14.4</text>
<text transform="translate(512.95,271.60) scale(0.0807,0.0814)" font-family="&quot;Liberation Sans&quot;, sans-serif" font-size="100" fill="#383838" stroke="#383838" stroke-width="2.2">24.4</text>
<text transform="translate(562.79,271.52) scale(0.0807,0.0803)" font-family="&quot;Liberation Sans&quot;, sans-serif" font-size="100" fill="#383838" stroke="#383838" stroke-width="2.2">34.4</text>
<text transform="translate(612.68,271.60) scale(0.0807,0.0826)" font-family="&quot;Liberation Sans&quot;, sans-serif" font-size="100" fill="#383838" stroke="#383838" stroke-width="2.2">44.4</text>
<text transform="translate(662.39,271.52) scale(0.0807,0.0814)" font-family="&quot;Liberation Sans&quot;, sans-serif" font-size="100" fill="#383838" stroke="#383838" stroke-width="2.2">54.4</text>
<text transform="translate(519.80,291.60) scale(0.1000,0.1017)" font-family="&quot;Liberation Sans&quot;, sans-serif" font-size="100" fill="#303030" stroke="#303030" stroke-width="1.8">C:Temp (C)</text>
<text transform="translate(367.80,177.69) rotate(-90) scale(0.0990,0.1061)" font-family="&quot;Liberation Sans&quot;, sans-serif" font-size="100" fill="#303030" stroke="#303030" stroke-width="1.8">Dynamic modulus (Mpa)</text>
<text transform="translate(510.88,320.93) scale(0.1806,0.1844)" font-family="&quot;Liberation Serif&quot;, serif" font-size="100" fill="#111">(b)</text>
<text transform="translate(186.47,332.67) scale(0.0870,0.0803)" font-family="&quot;Liberation Sans&quot;, sans-serif" font-size="100" fill="#383838" stroke="#383838" stroke-width="2.2">25000</text>
<text transform="translate(186.47,377.07) scale(0.0870,0.0803)" font-family="&quot;Liberation Sans&quot;, sans-serif" font-size="100" fill="#383838" stroke="#383838" stroke-width="2.2">20000</text>
<text transform="translate(186.47,421.47) scale(0.0870,0.0803)" font-family="&quot;Liberation Sans&quot;, sans-serif" font-size="100" fill="#383838" stroke="#383838" stroke-width="2.2">15000</text>
<text transform="translate(186.47,465.87) scale(0.0870,0.0803)" font-family="&quot;Liberation Sans&quot;, sans-serif" font-size="100" fill="#383838" stroke="#383838" stroke-width="2.2">10000</text>
<text transform="translate(191.34,510.37) scale(0.0870,0.0803)" font-family="&quot;Liberation Sans&quot;, sans-serif" font-size="100" fill="#383838" stroke="#383838" stroke-width="2.2">5000</text>
<text transform="translate(205.78,554.77) scale(0.0870,0.0803)" font-family="&quot;Liberation Sans&quot;, sans-serif" font-size="100" fill="#383838" stroke="#383838" stroke-width="2.2">0</text>
<text transform="translate(228.72,582.32) scale(0.0809,0.0761)" font-family="&quot;Liberation Sans&quot;, sans-serif" font-size="100" fill="#383838" stroke="#383838" stroke-width="2.2">0.1</text>
<text transform="translate(279.65,582.32) scale(0.0809,0.0761)" font-family="&quot;Liberation Sans&quot;, sans-serif" font-size="100" fill="#383838" stroke="#383838" stroke-width="2.2">5.08</text>
<text transform="translate(330.23,582.32) scale(0.0809,0.0761)" font-family="&quot;Liberation Sans&quot;, sans-serif" font-size="100" fill="#383838" stroke="#383838" stroke-width="2.2">10.06</text>
<text transform="translate(382.39,582.32) scale(0.0809,0.0761)" font-family="&quot;Liberation Sans&quot;, sans-serif" font-size="100" fill="#383838" stroke="#383838" stroke-width="2.2">15.04</text>
<text transform="translate(435.39,582.32) scale(0.0809,0.0761)" font-family="&quot;Liberation Sans&quot;, sans-serif" font-size="100" fill="#383838" stroke="#383838" stroke-width="2.2">20.02</text>
<text transform="translate(493.77,582.32) scale(0.0809,0.0761)" font-family="&quot;Liberation Sans&quot;, sans-serif" font-size="100" fill="#383838" stroke="#383838" stroke-width="2.2">25</text>
<text transform="translate(338.96,601.70) scale(0.1046,0.0974)" font-family="&quot;Liberation Sans&quot;, sans-serif" font-size="100" fill="#303030" stroke="#303030" stroke-width="1.8">B:Freq (Hz)</text>
<text transform="translate(177.70,492.65) rotate(-90) scale(0.0940,0.1105)" font-family="&quot;Liberation Sans&quot;, sans-serif" font-size="100" fill="#303030" stroke="#303030" stroke-width="1.8">Dynamic modulus (Mpa)</text>
<text transform="translate(331.17,624.86) scale(0.1835,0.1878)" font-family="&quot;Liberation Serif&quot;, serif" font-size="100" fill="#111">(c)</text>
</svg>
</body></html>
